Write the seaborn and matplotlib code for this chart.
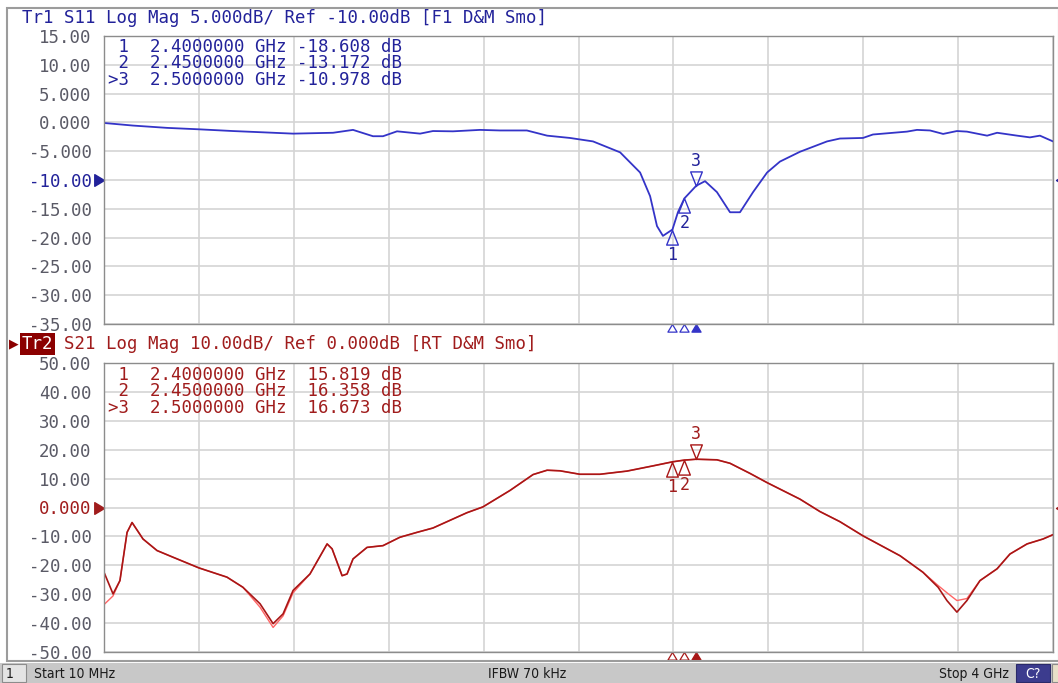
import matplotlib
matplotlib.use("Agg")
import matplotlib.pyplot as plt
import matplotlib.transforms as mtransforms
from matplotlib.path import Path
from matplotlib.patches import Rectangle
import numpy as np
import pandas as pd
import seaborn as sns

W, H = 1058, 683

# S11 trace (GHz, dB)
s11_freq = [0.010, 0.132, 0.275, 0.409, 0.552, 0.666, 0.805, 0.973, 1.057, 1.141,
            1.183, 1.242, 1.339, 1.393, 1.477, 1.591, 1.675, 1.788, 1.873, 1.969,
            2.066, 2.180, 2.264, 2.306, 2.335, 2.360, 2.400, 2.423, 2.450, 2.500,
            2.537, 2.587, 2.642, 2.684, 2.739, 2.798, 2.852, 2.936, 3.050, 3.104,
            3.201, 3.243, 3.386, 3.428, 3.483, 3.538, 3.596, 3.638, 3.723, 3.765,
            3.849, 3.903, 3.945, 4.000]
s11_db = [-0.1, -0.55, -0.95, -1.2, -1.5, -1.7, -1.95, -1.8, -1.3, -2.4,
          -2.4, -1.55, -1.95, -1.5, -1.55, -1.3, -1.4, -1.4, -2.3, -2.7,
          -3.3, -5.2, -8.7, -12.8, -18.0, -19.7, -18.6, -15.6, -13.2, -11.0,
          -10.2, -12.1, -15.6, -15.6, -12.1, -8.7, -6.8, -5.1, -3.3, -2.8,
          -2.7, -2.1, -1.6, -1.3, -1.4, -2.0, -1.5, -1.6, -2.3, -1.8,
          -2.3, -2.6, -2.3, -3.3]

# S21 trace (data) and the memory trace under it
s21_freq = [0.010, 0.048, 0.077, 0.107, 0.128, 0.174, 0.233, 0.300, 0.409, 0.527,
            0.594, 0.666, 0.721, 0.763, 0.805, 0.876, 0.948, 0.969, 1.011, 1.032,
            1.057, 1.116, 1.183, 1.254, 1.326, 1.393, 1.536, 1.603, 1.717, 1.814,
            1.873, 1.927, 2.011, 2.095, 2.209, 2.318, 2.400, 2.450, 2.500, 2.587,
            2.642, 2.726, 2.798, 2.936, 3.020, 3.104, 3.201, 3.357, 3.453, 3.517,
            3.554, 3.596, 3.638, 3.693, 3.765, 3.819, 3.891, 3.958, 4.000]
s21_db = [-22.4, -29.9, -25.3, -8.6, -5.2, -10.9, -14.9, -17.2, -20.9, -24.1,
          -27.6, -33.3, -40.2, -36.8, -28.7, -23.0, -12.6, -14.3, -23.6, -23.0,
          -17.8, -13.8, -13.2, -10.3, -8.6, -7.1, -1.8, 0.2, 5.9, 11.4,
          12.9, 12.7, 11.5, 11.5, 12.6, 14.4, 15.8, 16.4, 16.7, 16.5,
          15.3, 11.8, 8.6, 2.9, -1.4, -4.9, -9.8, -16.7, -22.4, -27.6,
          -32.2, -36.2, -32.2, -25.3, -21.2, -16.1, -12.6, -10.9, -9.4]
s21_mem_db = [-33.6, -30.6, -25.3, -8.6, -5.2, -10.9, -14.9, -17.2, -20.9, -24.1,
              -27.6, -34.5, -41.5, -37.5, -29.5, -23.0, -12.6, -14.3, -23.6, -23.0,
              -17.8, -13.8, -13.2, -10.3, -8.6, -7.1, -1.8, 0.2, 5.9, 11.4,
              12.9, 12.7, 11.5, 11.5, 12.6, 14.4, 15.8, 16.4, 16.7, 16.5,
              15.3, 11.8, 8.6, 2.9, -1.4, -4.9, -9.8, -16.7, -22.4, -27.0,
              -29.5, -32.2, -31.5, -25.3, -21.2, -16.1, -12.6, -10.9, -9.4]

marker_freq = [2.40, 2.45, 2.50]
s11_marker_db = [-18.608, -13.172, -10.978]
s21_marker_db = [15.819, 16.358, 16.673]

s11_ticks = [15, 10, 5, 0, -5, -10, -15, -20, -25, -30, -35]
s11_ticklabels = ["15.00", "10.00", "5.000", "0.000", "-5.000", "-10.00",
                  "-15.00", "-20.00", "-25.00", "-30.00", "-35.00"]
s21_ticks = [50, 40, 30, 20, 10, 0, -10, -20, -30, -40, -50]
s21_ticklabels = ["50.00", "40.00", "30.00", "20.00", "10.00", "0.000",
                  "-10.00", "-20.00", "-30.00", "-40.00", "-50.00"]

start_ghz, stop_ghz = 0.01, 4.0

BLUE_TR = "#3434c8"
BLUE_TX = "#22229a"
RED_TR = "#a81616"
RED_MEM = "#ff6464"
RED_TX = "#a01c1c"
TICK_C = "#5a5a66"
MONO = "DejaVu Sans Mono"
FS = 12.5

sns.set_theme(style="white")
plt.rcParams["font.family"] = [MONO, "DejaVu Sans"]

fig = plt.figure(figsize=(W / 100, H / 100), dpi=100)
fig.patch.set_facecolor("white")


def px_axes(x0, y0, x1, y1):
    return fig.add_axes([x0 / W, 1 - y1 / H, (x1 - x0) / W, (y1 - y0) / H])


def fig_text(x, y, s, **kw):
    fig.text(x / W, 1 - y / H, s, **kw)


# marker shapes with the tip at the data point
tri_above = Path([(-0.5, 1.25), (0.5, 1.25), (0, 0), (-0.5, 1.25)],
                 [Path.MOVETO, Path.LINETO, Path.LINETO, Path.CLOSEPOLY])
tri_below = Path([(-0.5, -1.25), (0.5, -1.25), (0, 0), (-0.5, -1.25)],
                 [Path.MOVETO, Path.LINETO, Path.LINETO, Path.CLOSEPOLY])
ref_left = Path([(-1, -0.6), (-1, 0.6), (0, 0), (-1, -0.6)],
                [Path.MOVETO, Path.LINETO, Path.LINETO, Path.CLOSEPOLY])
ref_right = Path([(1, -0.6), (1, 0.6), (0, 0), (1, -0.6)],
                 [Path.MOVETO, Path.LINETO, Path.LINETO, Path.CLOSEPOLY])
flag_up = Path([(-0.6, -1), (0.6, -1), (0, 0), (-0.6, -1)],
               [Path.MOVETO, Path.LINETO, Path.LINETO, Path.CLOSEPOLY])


def style_axes(ax, ticks, labels, ylim, ref_val, ref_color):
    ax.set_xlim(start_ghz, stop_ghz)
    ax.set_ylim(*ylim)
    ax.set_xticks(np.linspace(start_ghz, stop_ghz, 11))
    ax.set_yticks(ticks, labels)
    ax.tick_params(length=0, labelbottom=False, pad=9, labelsize=FS, labelcolor=TICK_C)
    for t, v in zip(ax.get_yticklabels(), ticks):
        t.set_fontfamily(MONO)
        if v == ref_val:
            t.set_color(ref_color)
    ax.grid(True, color="#d4d4d4", lw=1.2)
    ax.set_axisbelow(True)
    for sp in ax.spines.values():
        sp.set_color("#8c8c8c")
        sp.set_linewidth(1.0)
    ax.set_xlabel("")
    ax.set_ylabel("")
    # reference level arrows on both sides
    tr = mtransforms.blended_transform_factory(ax.transAxes, ax.transData)
    ax.plot([0], [ref_val], marker=ref_left, ms=14, color=ref_color,
            transform=tr, clip_on=False, ls="none")
    ax.plot([1.003], [ref_val], marker=ref_right, ms=14, color=ref_color,
            transform=tr, clip_on=False, ls="none")


def draw_markers(ax, values, color, text_color):
    tr = mtransforms.blended_transform_factory(ax.transData, ax.transAxes)
    for i, (f, v) in enumerate(zip(marker_freq, values)):
        above = i == 2
        ax.plot([f], [v], marker=tri_above if above else tri_below, ms=21,
                mfc="none", mec=color, mew=1.0, ls="none", zorder=5)
        ax.annotate(str(i + 1), (f, v), xytext=(0, 18 if above else -18),
                    textcoords="offset points", ha="center", va="center",
                    fontsize=12, color=text_color, family=MONO)
        # small indicators below the graticule
        ax.plot([f], [0], marker=flag_up, ms=11, transform=tr, clip_on=False,
                mfc=color if above else "white", mec=color, mew=0.9, ls="none")


# outer frame and status bar
fig.patches.append(Rectangle((7 / W, 1 - 661 / H), (W - 6) / W, (661 - 8) / H,
                             transform=fig.transFigure, fill=False,
                             ec="#9c9c9c", lw=1.5))
fig.patches.append(Rectangle((0, 0), 1, 20 / H, transform=fig.transFigure,
                             fc="#c8c8c8", ec="none"))
fig.patches.append(Rectangle((2 / W, 1 / H), 24 / W, 18 / H, transform=fig.transFigure,
                             fc="#e4e4e4", ec="#8c8c8c", lw=0.8))
fig.patches.append(Rectangle((1016 / W, 1 / H), 34 / W, 18 / H, transform=fig.transFigure,
                             fc="#3c3c8e", ec="#2a2a6a", lw=0.8))
fig.patches.append(Rectangle((1052 / W, 1 / H), 8 / W, 18 / H, transform=fig.transFigure,
                             fc="#e8e0c8", ec="#8c8c8c", lw=0.8))
bar_kw = dict(fontsize=10, family="DejaVu Sans", fontstretch="condensed",
              va="center", color="#1a1a1a")
fig_text(10, 674, "1", ha="center", **bar_kw)
fig_text(34, 674, "Start 10 MHz", ha="left", **bar_kw)
fig_text(527, 674, "IFBW 70 kHz", ha="center", **bar_kw)
fig_text(1009, 674, "Stop 4 GHz", ha="right", **bar_kw)
fig_text(1033, 674, "C?", ha="center", **{**bar_kw, "color": "white"})

# ---- Tr1 : S11 ----
ax1 = px_axes(104, 36, 1053, 324)
df11 = pd.DataFrame({"freq": s11_freq, "db": s11_db})
sns.lineplot(data=df11, x="freq", y="db", ax=ax1, color=BLUE_TR, lw=1.3)
style_axes(ax1, s11_ticks, s11_ticklabels, (-35, 15), -10, BLUE_TX)
draw_markers(ax1, s11_marker_db, BLUE_TR, BLUE_TX)

fig_text(22, 18, "Tr1 S11 Log Mag 5.000dB/ Ref -10.00dB [F1 D&M Smo]",
         fontsize=FS, color=BLUE_TX, va="center", family=MONO)
for i, (f, v) in enumerate(zip(marker_freq, s11_marker_db)):
    tag = ">3" if i == 2 else f" {i + 1}"
    fig_text(108, 47 + 16.5 * i, f"{tag}  {f:.7f} GHz {v:.3f} dB",
             fontsize=FS, color=BLUE_TX, va="center", family=MONO)

# ---- Tr2 : S21 ----
ax2 = px_axes(104, 363, 1053, 652)
df21 = pd.DataFrame({"freq": s21_freq, "db": s21_db, "mem": s21_mem_db})
sns.lineplot(data=df21, x="freq", y="mem", ax=ax2, color=RED_MEM, lw=1.0)
sns.lineplot(data=df21, x="freq", y="db", ax=ax2, color=RED_TR, lw=1.2)
style_axes(ax2, s21_ticks, s21_ticklabels, (-50, 50), 0, RED_TX)
draw_markers(ax2, s21_marker_db, RED_TR, RED_TX)

fig_text(14, 344, "\u25B6", fontsize=9, color="#8b0000", va="center", ha="center",
         family="DejaVu Sans")
fig_text(22, 344, "Tr2", fontsize=FS, color="white", va="center", family=MONO,
         bbox=dict(boxstyle="square,pad=0.1", fc="#8b0000", ec="none"))
fig_text(64, 344, "S21 Log Mag 10.00dB/ Ref 0.000dB [RT D&M Smo]",
         fontsize=FS, color=RED_TX, va="center", family=MONO)
for i, (f, v) in enumerate(zip(marker_freq, s21_marker_db)):
    tag = ">3" if i == 2 else f" {i + 1}"
    fig_text(108, 375 + 16.5 * i, f"{tag}  {f:.7f} GHz  {v:.3f} dB",
             fontsize=FS, color=RED_TX, va="center", family=MONO)

fig.savefig("out.png", dpi=100)
